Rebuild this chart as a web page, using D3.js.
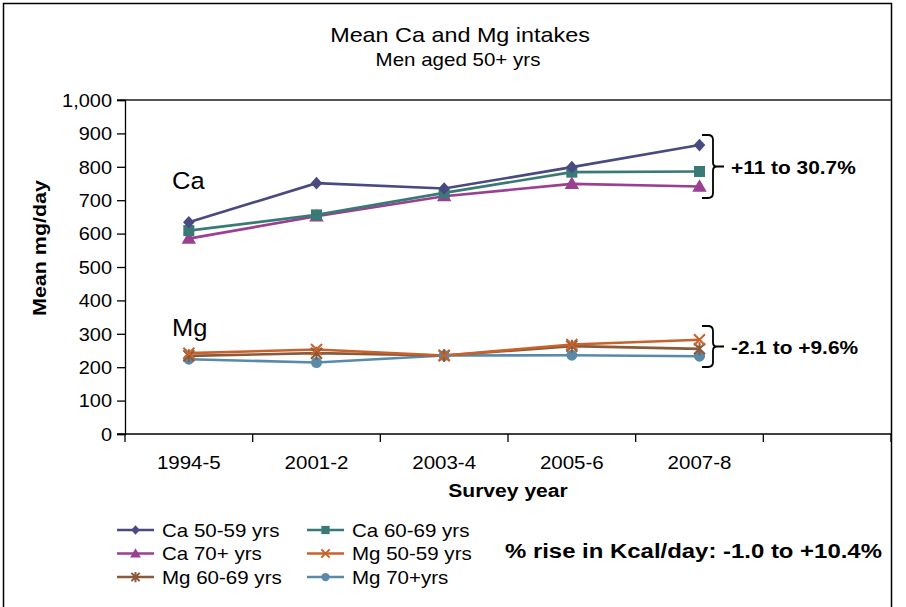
<!DOCTYPE html>
<html>
<head>
<meta charset="utf-8">
<script src="https://cdn.jsdelivr.net/npm/d3@7"></script>
<style>
  html, body { margin: 0; padding: 0; background: #fff; }
  svg { display: block; font-family: "Liberation Sans", Arial, sans-serif; }
</style>
</head>
<body>
<svg id="chart" width="906" height="607"></svg>
<script>
const categories = ["1994-5", "2001-2", "2003-4", "2005-6", "2007-8", ""];
const yTicks = [0, 100, 200, 300, 400, 500, 600, 700, 800, 900, 1000];

const caAge50 = [634, 751, 735, 799, 865];
const caAge60 = [609, 656, 722, 784, 786];
const caAge70 = [585, 652, 712, 749, 741];
const mgAge50 = [242, 253, 235, 268, 282];
const mgAge60 = [234, 242, 235, 263, 255];
const mgAge70 = [224, 214, 235, 236, 233];

const seriesNames = ["Ca 50-59 yrs", "Ca 60-69 yrs", "Ca 70+ yrs", "Mg 50-59 yrs", "Mg 60-69 yrs", "Mg 70+yrs"];
const seriesValues = [caAge50, caAge60, caAge70, mgAge50, mgAge60, mgAge70];
const seriesColors = ["#4a4a82", "#3a7a76", "#9a3f92", "#c9622a", "#8a5a3a", "#5a8aaa"];
const seriesMarkers = ["diamond", "square", "triangle", "x", "asterisk", "circle"];

const SX = 1.14; // horizontal stretch of the reference lettering

const svg = d3.select("#chart");

function stext(parent, x, y, str, size, opts) {
  opts = opts || {};
  const rot = opts.rotate ? ` rotate(${opts.rotate})` : "";
  const sx = opts.sx || SX;
  const g = parent.append("g").attr("transform", `translate(${x},${y})${rot} scale(${sx},1)`);
  g.append("text").attr("x", 0).attr("y", 0)
    .attr("text-anchor", opts.anchor || "start")
    .attr("font-size", size)
    .attr("font-weight", opts.bold ? "bold" : "normal")
    .attr("fill", "#000")
    .text(str);
  return g;
}

// outer frame
svg.append("rect").attr("x", 3.5).attr("y", 3.5).attr("width", 888).attr("height", 610)
  .attr("fill", "none").attr("stroke", "#000").attr("stroke-width", 1.5);

const plot = { left: 125, right: 891, top: 100, bottom: 434 };

const x = d3.scaleBand().domain(categories).range([plot.left, plot.right]).paddingInner(0).paddingOuter(0);
const y = d3.scaleLinear().domain([0, 1000]).range([plot.bottom, plot.top]);

// plot top border
svg.append("line").attr("x1", plot.left - 8).attr("x2", plot.right).attr("y1", plot.top).attr("y2", plot.top)
  .attr("stroke", "#555").attr("stroke-width", 2);

// y axis
const yAxis = d3.axisLeft(y).tickValues(yTicks).tickSize(8).tickPadding(5)
  .tickFormat(d3.format(","));
const gy = svg.append("g").attr("transform", `translate(${plot.left},0)`).call(yAxis);
gy.select(".domain").attr("stroke", "#000").attr("stroke-width", 1.3);
gy.selectAll(".tick line").attr("stroke", "#000").attr("stroke-width", 1.3);
gy.selectAll(".tick text")
  .attr("x", 0).attr("dy", "0.36em")
  .attr("transform", `translate(-13,0) scale(${SX},1)`)
  .attr("font-size", 17.5).attr("fill", "#000")
  .attr("font-family", "'Liberation Sans', Arial, sans-serif");

// x axis
const gx = svg.append("g").attr("transform", `translate(0,${plot.bottom})`);
gx.append("line").attr("x1", plot.left - 8).attr("x2", plot.right).attr("y1", 0).attr("y2", 0)
  .attr("stroke", "#000").attr("stroke-width", 1.3);
const boundaries = categories.map(c => x(c)).concat([x(categories[categories.length - 1]) + x.bandwidth()]);
gx.selectAll("line.tk").data(boundaries).enter().append("line").attr("class", "tk")
  .attr("x1", d => d).attr("x2", d => d).attr("y1", 0).attr("y2", 8)
  .attr("stroke", "#000").attr("stroke-width", 1.3);
categories.forEach(c => {
  if (c) stext(gx, x(c) + x.bandwidth() / 2, 35, c, 18, { anchor: "middle" });
});

// axis titles
stext(svg, (plot.left + plot.right) / 2, 497, "Survey year", 18.5, { anchor: "middle", bold: true });
stext(svg, 46, 248, "Mean mg/day", 18.5, { anchor: "middle", bold: true, rotate: -90, sx: 1.16 });

// title
stext(svg, 460, 42, "Mean Ca and Mg intakes", 20.5, { anchor: "middle" });
stext(svg, 458, 66, "Men aged 50+ yrs", 18, { anchor: "middle" });

// marker drawer
function drawMarker(g, type, cx, cy, color, s) {
  s = s || 1;
  if (type === "diamond") {
    const w = 5.8 * s, h = 6.3 * s;
    g.append("path").attr("d", `M${cx},${cy - h}L${cx + w},${cy}L${cx},${cy + h}L${cx - w},${cy}Z`)
      .attr("fill", color);
  } else if (type === "square") {
    const r = 5.5 * s;
    g.append("rect").attr("x", cx - r).attr("y", cy - r).attr("width", 2 * r).attr("height", 2 * r).attr("fill", color);
  } else if (type === "triangle") {
    g.append("path").attr("d", d3.symbol(d3.symbolTriangle, 90 * s * s)()).attr("transform", `translate(${cx},${cy + 1})`)
      .attr("fill", color);
  } else if (type === "x") {
    const r = 5.5 * s;
    g.append("path").attr("d", `M${cx - r},${cy - r}L${cx + r},${cy + r}M${cx - r},${cy + r}L${cx + r},${cy - r}`)
      .attr("stroke", color).attr("stroke-width", 2).attr("fill", "none");
  } else if (type === "asterisk") {
    const r = 5.5 * s;
    g.append("path").attr("d", `M${cx - r},${cy - r}L${cx + r},${cy + r}M${cx - r},${cy + r}L${cx + r},${cy - r}M${cx},${cy - r - 1}L${cx},${cy + r + 1}`)
      .attr("stroke", color).attr("stroke-width", 2).attr("fill", "none");
  } else if (type === "circle") {
    g.append("circle").attr("cx", cx).attr("cy", cy).attr("r", 5.5 * s).attr("fill", color);
  }
}

// lines
const line = d3.line().x((d, i) => x(categories[i]) + x.bandwidth() / 2).y(d => y(d));
const gLines = svg.append("g");
const drawOrder = [5, 4, 3, 2, 1, 0];
drawOrder.forEach(si => {
  gLines.append("path").datum(seriesValues[si]).attr("d", line)
    .attr("fill", "none").attr("stroke", seriesColors[si]).attr("stroke-width", 2.6);
});
drawOrder.forEach(si => {
  seriesValues[si].forEach((v, i) => {
    drawMarker(gLines, seriesMarkers[si], x(categories[i]) + x.bandwidth() / 2, y(v), seriesColors[si], 1);
  });
});

// group labels
stext(svg, 172, 189, "Ca", 24.5, { sx: 1.04 });
stext(svg, 172, 336, "Mg", 24.5, { sx: 1.04 });

// brackets
function bracket(x0, yTop, yBot) {
  const yMid = (yTop + yBot) / 2;
  const w = 11, r = 5;
  const p = `M${x0},${yTop} L${x0 + w - r},${yTop} Q${x0 + w},${yTop} ${x0 + w},${yTop + r}` +
    ` L${x0 + w},${yMid - 4} Q${x0 + w},${yMid} ${x0 + w + 4},${yMid}` +
    ` Q${x0 + w},${yMid} ${x0 + w},${yMid + 4} L${x0 + w},${yBot - r} Q${x0 + w},${yBot} ${x0 + w - r},${yBot} L${x0},${yBot}` +
    ` M${x0 + w + 4},${yMid} L${x0 + w + 11},${yMid}`;
  svg.append("path").attr("d", p).attr("fill", "none").attr("stroke", "#000").attr("stroke-width", 1.8);
  return yMid;
}
const m1 = bracket(702, 135, 198);
const m2 = bracket(702, 326, 367);
stext(svg, 731, m1 + 7, "+11 to 30.7%", 18.5, { bold: true, sx: 1.13 });
stext(svg, 731, m2 + 7, "-2.1 to +9.6%", 18.5, { bold: true, sx: 1.13 });

// legend
const legend = svg.append("g");
const legPos = [[117, 530], [307, 530], [117, 553.5], [307, 553.5], [117, 577], [307, 577]];
seriesNames.forEach((name, i) => {
  const [lx, ly] = legPos[i];
  const g = legend.append("g");
  g.append("line").attr("x1", lx).attr("x2", lx + 37).attr("y1", ly).attr("y2", ly)
    .attr("stroke", seriesColors[i]).attr("stroke-width", 2.6);
  drawMarker(g, seriesMarkers[i], lx + 18.5, ly, seriesColors[i], 0.75);
  stext(g, lx + 45, ly + 6.5, name, 18, {});
});

stext(svg, 505, 558, "% rise in Kcal/day: -1.0 to +10.4%", 21, { bold: true, sx: 1.14 });
</script>
</body>
</html>
